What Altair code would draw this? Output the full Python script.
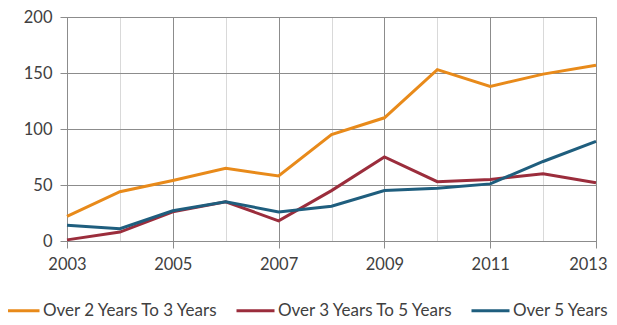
import altair as alt
import pandas as pd

years = list(range(2003, 2014))
s1 = [22, 44, 54, 65, 58, 95, 110, 153, 138, 149, 157]
s2 = [1, 8, 26, 35, 18, 45, 75, 53, 55, 60, 52]
s3 = [14, 11, 27, 35, 26, 31, 45, 47, 51, 71, 89]
names = ["Over 2 Years To 3 Years", "Over 3 Years To 5 Years", "Over 5 Years"]
colors = ["#E88A1A", "#9B2D3C", "#1F5E7E"]

rows = []
for name, vals in zip(names, [s1, s2, s3]):
    for y, v in zip(years, vals):
        rows.append({"year": y, "value": v, "series": name})
df = pd.DataFrame(rows)

font = "Lato"
dark = "#8c8c8c"
light = "#d9d9d9"
txt = "#404040"

chart = alt.Chart(df).mark_line(strokeWidth=3).encode(
    x=alt.X("year:Q", scale=alt.Scale(domain=[2003, 2013], nice=False, zero=False),
            axis=alt.Axis(values=years, format="d", title=None,
                          labelExpr="datum.value % 2 == 1 ? datum.label : ''",
                          labelAlign={"condition": {"test": "datum.value >= 2012.5", "value": "right"}, "value": "center"},
                          labelOffset={"condition": {"test": "datum.value >= 2012.5", "value": 11}, "value": 0},
                          gridColor={"condition": {"test": "datum.value % 2 == 0", "value": light}, "value": dark},
                          tickColor={"condition": {"test": "datum.value % 2 == 0", "value": "transparent"}, "value": dark},
                          tickSize=7, labelPadding=8, labelFontSize=16.5, labelColor=txt,
                          labelFont=font, domainColor=dark, labelFlush=False)),
    y=alt.Y("value:Q", scale=alt.Scale(domain=[0, 200], nice=False),
            axis=alt.Axis(values=[0, 50, 100, 150, 200], title=None, tickSize=7,
                          tickColor=dark, gridColor=dark, domainColor=dark,
                          labelPadding=8, labelFontSize=16.5, labelColor=txt, labelFont=font)),
    color=alt.Color("series:N", scale=alt.Scale(domain=names, range=colors),
                    legend=alt.Legend(title=None, orient="none", direction="horizontal",
                                      legendX=-67, legendY=273, symbolType="stroke",
                                      symbolSize=1444, symbolStrokeWidth=3,
                                      labelFontSize=17, labelFont=font, labelColor=txt,
                                      labelOffset=2, columnPadding=11, labelLimit=300)),
).properties(
    width=529, height=224,
    autosize=alt.AutoSizeParams(type="none"),
    padding={"left": 59, "top": 9, "right": 13, "bottom": 76},
).configure_view(stroke=dark, strokeWidth=1).configure_axis(gridWidth=1)

chart.save("out.html", embed_options={"renderer": "svg", "actions": False})
